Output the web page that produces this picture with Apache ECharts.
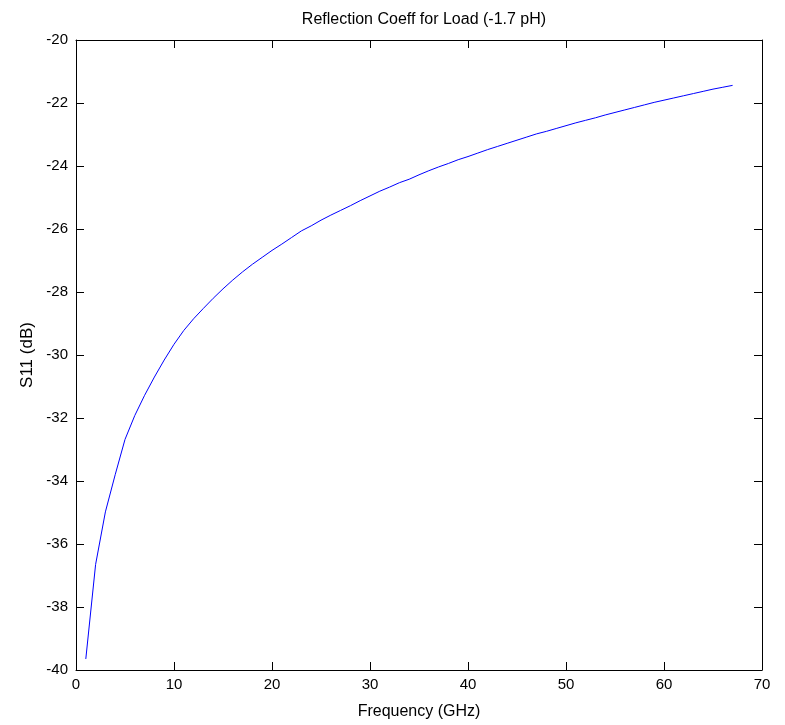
<!DOCTYPE html>
<html>
<head>
<meta charset="utf-8">
<script src="https://cdn.jsdelivr.net/npm/echarts@6/dist/echarts.min.js"></script>
<style>
html,body{margin:0;padding:0;background:#fff;}
#chart{width:785px;height:725px;}
</style>
</head>
<body>
<div id="chart"></div>
<script>
var frequencies = [1,2,3,4,5,6,7,8,9,10,11,12,13,14,15,16,17,18,19,20,21,22,23,24,25,26,27,28,29,30,31,32,33,34,35,36,37,38,39,40,41,42,43,44,45,46,47,48,49,50,51,52,53,54,55,56,57,58,59,60,61,62,63,64,65,66,67];
var s11 = [-39.65,-36.65,-34.98,-33.8,-32.68,-31.92,-31.28,-30.7,-30.16,-29.66,-29.22,-28.85,-28.52,-28.2,-27.9,-27.62,-27.36,-27.12,-26.9,-26.68,-26.48,-26.27,-26.06,-25.9,-25.72,-25.56,-25.41,-25.26,-25.1,-24.95,-24.8,-24.67,-24.53,-24.42,-24.28,-24.15,-24.03,-23.92,-23.8,-23.7,-23.59,-23.48,-23.38,-23.28,-23.18,-23.08,-22.98,-22.9,-22.81,-22.72,-22.63,-22.55,-22.47,-22.38,-22.3,-22.22,-22.14,-22.06,-21.98,-21.91,-21.84,-21.77,-21.7,-21.63,-21.56,-21.5,-21.44];
var titleText = 'Reflection Coeff for Load (-1.7 pH)';
var xName = 'Frequency (GHz)';
var yName = 'S11 (dB)';

var pairs = frequencies.map(function(f, i){ return [f, s11[i]]; });
var font = 'Liberation Sans, Arial, sans-serif';
var axisLine = {show:true, onZero:false, lineStyle:{color:'#000', width:1}};
var axisTick = {show:true, inside:true, length:8, lineStyle:{color:'#000', width:1}};

var chart = echarts.init(document.getElementById('chart'), null, {renderer:'canvas'});
chart.setOption({
  animation:false,
  backgroundColor:'#fff',
  title:{text:titleText, left:419, textAlign:'center', top:7, textStyle:{fontFamily:font, fontSize:16, fontWeight:'normal', color:'#000'}},
  grid:{left:76, top:40, right:23, bottom:50, containLabel:false},
  xAxis:[
    {type:'value', min:0, max:70, interval:10, position:'bottom',
     name:xName, nameLocation:'middle', nameGap:34,
     nameTextStyle:{fontFamily:font, fontSize:16, color:'#000'},
     axisLine:axisLine, axisTick:axisTick,
     axisLabel:{fontFamily:font, fontSize:15, color:'#000', margin:7},
     splitLine:{show:false}},
    {type:'value', min:0, max:70, interval:10, position:'top',
     axisLine:axisLine, axisTick:axisTick, axisLabel:{show:false}, splitLine:{show:false}}
  ],
  yAxis:[
    {type:'value', min:-40, max:-20, interval:2, position:'left',
     name:yName, nameLocation:'middle', nameGap:35, nameRotate:90,
     nameTextStyle:{fontFamily:font, fontSize:17, color:'#000'},
     axisLine:axisLine, axisTick:axisTick,
     axisLabel:{fontFamily:font, fontSize:15, color:'#000', margin:8},
     splitLine:{show:false}},
    {type:'value', min:-40, max:-20, interval:2, position:'right',
     axisLine:axisLine, axisTick:axisTick, axisLabel:{show:false}, splitLine:{show:false}}
  ],
  series:[{
    type:'line', xAxisIndex:0, yAxisIndex:0, data:pairs,
    showSymbol:false, symbol:'none', smooth:false,
    lineStyle:{color:'#0000ff', width:1}
  }]
});
</script>
</body>
</html>
